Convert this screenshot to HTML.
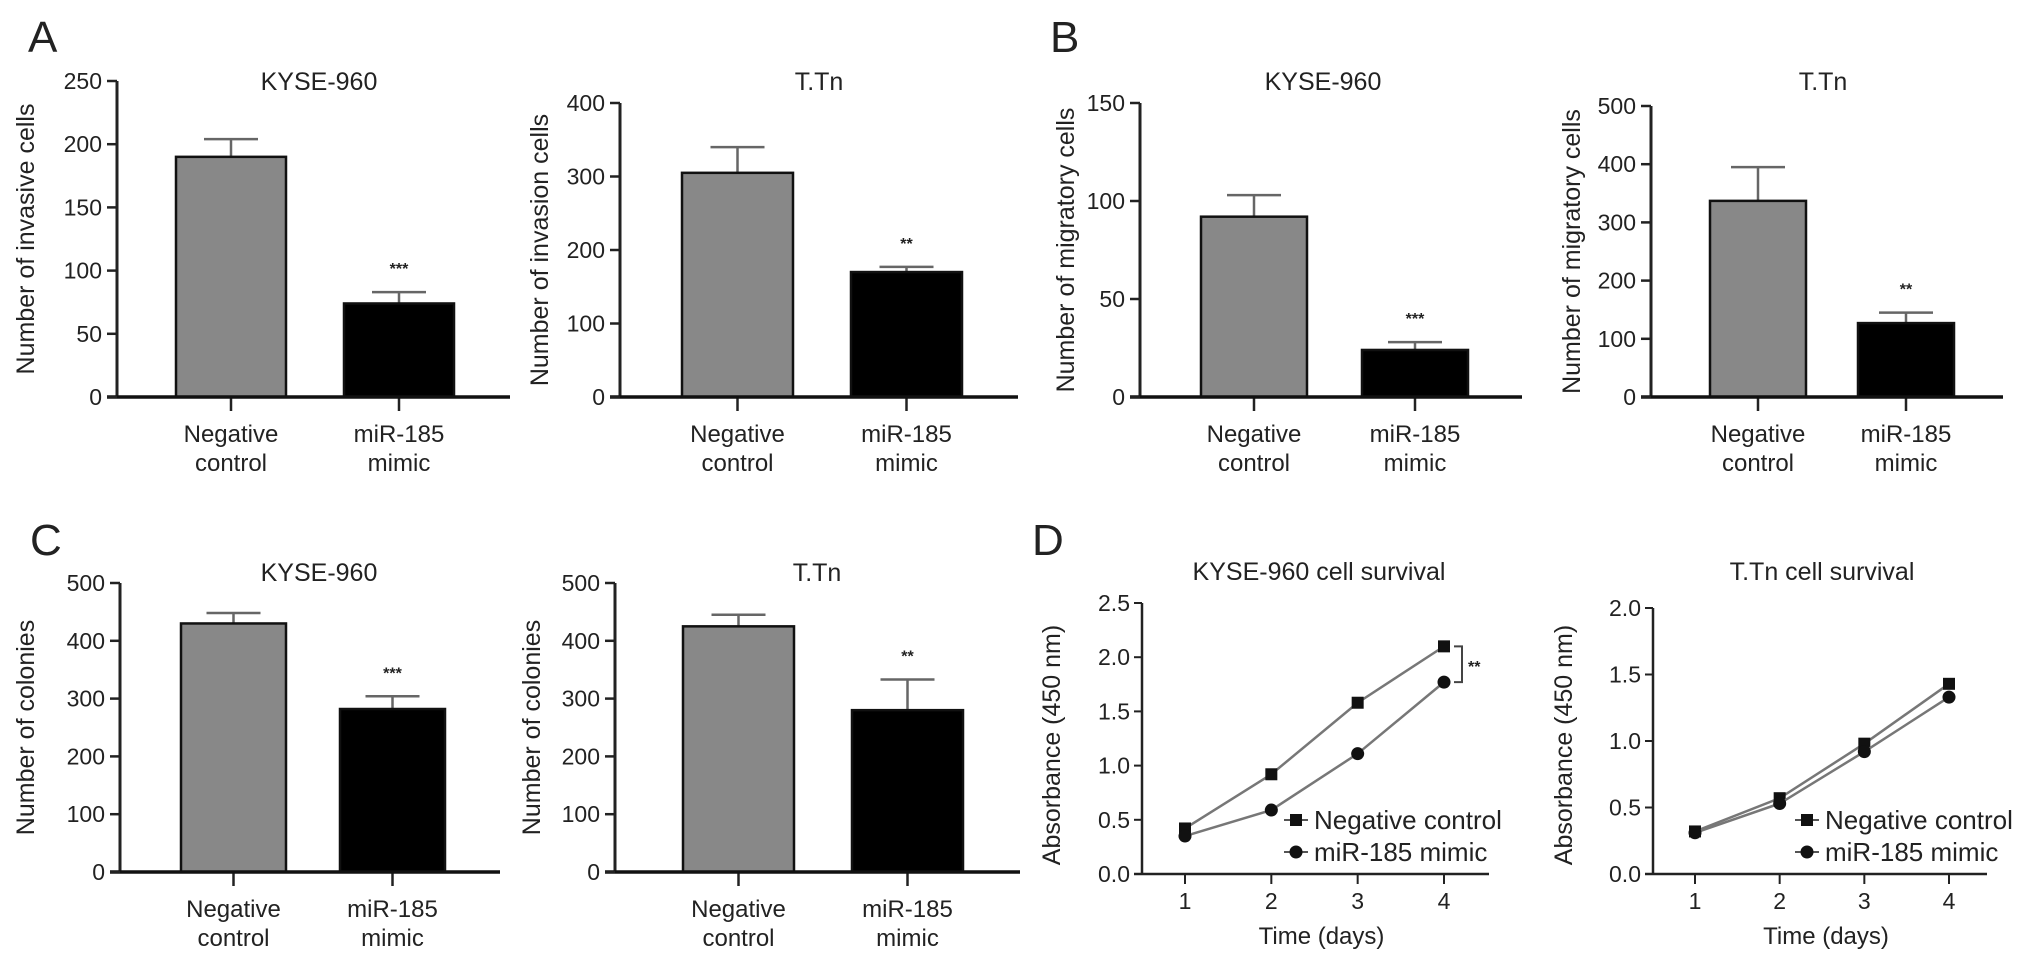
<!DOCTYPE html>
<html><head><meta charset="utf-8"><style>
html,body{margin:0;padding:0;background:#fff;width:2032px;height:966px;overflow:hidden}
svg text{font-family:"Liberation Sans",Arial,sans-serif;fill:#222}
</style></head><body>
<svg id="fig" width="2032" height="966" viewBox="0 0 2032 966" xmlns="http://www.w3.org/2000/svg">
<text x="28" y="52" font-size="44">A</text>
<text x="1050" y="52" font-size="44">B</text>
<text x="30" y="555" font-size="44">C</text>
<text x="1032" y="555" font-size="44">D</text>
</svg>
<script>
const svgNS="http://www.w3.org/2000/svg";
const fig=document.getElementById('fig');
function mk(tag,attrs,parent){const e=document.createElementNS(svgNS,tag);for(const k in attrs)e.setAttribute(k,attrs[k]);(parent||fig).appendChild(e);return e;}

// ---- bar chart data ----
const barCategories=[["Negative","control"],["miR-185","mimic"]];
const a1Values=[190,74];const a1Err=[204,83];const a1Ticks=[0,50,100,150,200,250];
const a2Values=[305,170];const a2Err=[340,177];const a2Ticks=[0,100,200,300,400];
const b1Values=[92,24];const b1Err=[103,28];const b1Ticks=[0,50,100,150];
const b2Values=[337,127];const b2Err=[395,145];const b2Ticks=[0,100,200,300,400,500];
const c1Values=[430,282];const c1Err=[448,304];const c1Ticks=[0,100,200,300,400,500];
const c2Values=[425,280];const c2Err=[445,333];const c2Ticks=[0,100,200,300,400,500];
const a1Sig="***",a2Sig="**",b1Sig="***",b2Sig="**",c1Sig="***",c2Sig="**";

// ---- line chart data ----
const days=[1,2,3,4];
const d1Neg=[0.42,0.92,1.58,2.1];const d1Mim=[0.35,0.59,1.11,1.77];const d1Ticks=[0,0.5,1.0,1.5,2.0,2.5];
const d2Neg=[0.32,0.57,0.98,1.43];const d2Mim=[0.31,0.53,0.92,1.33];const d2Ticks=[0,0.5,1.0,1.5,2.0];
const legendLabels=["Negative control","miR-185 mimic"];

function barChart(o){
  const g=mk('g',{});
  
  
  const max=o.ticks[o.ticks.length-1];
  const y=v=>o.y0-(v/max)*(o.y0-o.yTop);
  const bx=[o.b1,o.b2];
  o.values.forEach((v,i)=>{
    const err=mk('g',{},g);
    
    
    const cx=bx[i]+o.bw/2;
    mk('line',{x1:cx,x2:cx,y1:y(v),y2:y(o.err[i]),stroke:'#666','stroke-width':2.5},err);
    mk('line',{x1:cx-27,x2:cx+27,y1:y(o.err[i]),y2:y(o.err[i]),stroke:'#666','stroke-width':2.5},err);
    const r=mk('rect',{x:bx[i],y:y(v),width:o.bw,height:o.y0-y(v),fill:i==0?'#888':'#000',stroke:'#111','stroke-width':2.5},g);
    
    
    const t=mk('text',{x:cx,y:o.y0+45,'font-size':24,'text-anchor':'middle'},g);
    
    
    barCategories[i].forEach((s,j)=>{const ts=mk('tspan',{x:cx,dy:j==0?0:29},t);ts.textContent=s;});
    mk('line',{x1:cx,x2:cx,y1:o.y0,y2:o.y0+14,stroke:'#222','stroke-width':2.5},g);
  });
  const sg=mk('text',{x:bx[1]+o.bw/2,y:y(o.err[1])-18,'font-size':16,'text-anchor':'middle','font-weight':'bold'},g);
  
  
  sg.textContent=o.sig;
  const ya=mk('line',{x1:o.x0,x2:o.x0,y1:o.y0,y2:o.yTop,stroke:'#222','stroke-width':3},g);
  
  
  const xa=mk('line',{x1:o.x0-10,x2:o.xEnd,y1:o.y0,y2:o.y0,stroke:'#111','stroke-width':3.5},g);
  
  
  o.ticks.forEach(tv=>{
    mk('line',{x1:o.x0-10,x2:o.x0,y1:y(tv),y2:y(tv),stroke:'#222','stroke-width':2.5},g);
    const t=mk('text',{x:o.x0-15,y:y(tv)+8,'font-size':23,'text-anchor':'end'},g);
    
    
    t.textContent=tv;
  });
  const tt=mk('text',{x:o.tx,y:o.ty,'font-size':25,'text-anchor':'middle'},g);
  
  
  tt.textContent=o.title;
  const yl=mk('text',{x:0,y:0,'font-size':25,'text-anchor':'middle',transform:`translate(${o.ylx},${(o.y0+o.yTop)/2}) rotate(-90)`},g);
  
  
  yl.textContent=o.ylabel;
}

barChart({name:'chart-a-kyse960',values:a1Values,err:a1Err,ticks:a1Ticks,sig:a1Sig,x0:117,xEnd:510,y0:397,yTop:81,b1:176,b2:344,bw:110,tx:319,ty:90,ylx:34,title:'KYSE-960',ylabel:'Number of invasive cells'});
barChart({name:'chart-a-ttn',values:a2Values,err:a2Err,ticks:a2Ticks,sig:a2Sig,x0:620,xEnd:1018,y0:397,yTop:103,b1:682,b2:851,bw:111,tx:819,ty:90,ylx:548,title:'T.Tn',ylabel:'Number of invasion cells'});
barChart({name:'chart-b-kyse960',values:b1Values,err:b1Err,ticks:b1Ticks,sig:b1Sig,x0:1140,xEnd:1522,y0:397,yTop:103,b1:1201,b2:1362,bw:106,tx:1323,ty:90,ylx:1074,title:'KYSE-960',ylabel:'Number of migratory cells'});
barChart({name:'chart-b-ttn',values:b2Values,err:b2Err,ticks:b2Ticks,sig:b2Sig,x0:1651,xEnd:2003,y0:397,yTop:106,b1:1710,b2:1858,bw:96,tx:1823,ty:90,ylx:1580,title:'T.Tn',ylabel:'Number of migratory cells'});
barChart({name:'chart-c-kyse960',values:c1Values,err:c1Err,ticks:c1Ticks,sig:c1Sig,x0:120,xEnd:500,y0:872,yTop:583,b1:181,b2:340,bw:105,tx:319,ty:581,ylx:34,title:'KYSE-960',ylabel:'Number of colonies'});
barChart({name:'chart-c-ttn',values:c2Values,err:c2Err,ticks:c2Ticks,sig:c2Sig,x0:615,xEnd:1020,y0:872,yTop:583,b1:683,b2:852,bw:111,tx:817,ty:581,ylx:540,title:'T.Tn',ylabel:'Number of colonies'});

function lineChart(o){
  const g=mk('g',{});
  
  
  const max=o.ticks[o.ticks.length-1];
  const y=v=>o.y0-(v/max)*(o.y0-o.yTop);
  const x=d=>o.xa+(d-1)/3*(o.xb-o.xa);
  [o.neg,o.mim].forEach((ser,si)=>{
    const pts=ser.map((v,i)=>x(days[i])+','+y(v)).join(' ');
    const pl=mk('polyline',{points:pts,fill:'none',stroke:'#777','stroke-width':2.5},g);
    
    
    ser.forEach((v,i)=>{
      let m;
      if(si==0) m=mk('rect',{x:x(days[i])-6,y:y(v)-6,width:12,height:12,fill:'#111'},g);
      else m=mk('circle',{cx:x(days[i]),cy:y(v),r:6.5,fill:'#111'},g);
      
      
    });
  });
  const ya=mk('line',{x1:o.x0,x2:o.x0,y1:o.y0,y2:o.yTop,stroke:'#222','stroke-width':2.5},g);
  
  
  const xa=mk('line',{x1:o.x0-8,x2:o.xEnd,y1:o.y0,y2:o.y0,stroke:'#222','stroke-width':2.5},g);
  
  
  o.ticks.forEach(tv=>{
    mk('line',{x1:o.x0-8,x2:o.x0,y1:y(tv),y2:y(tv),stroke:'#222','stroke-width':2},g);
    const t=mk('text',{x:o.x0-12,y:y(tv)+8,'font-size':23,'text-anchor':'end'},g);
    
    
    t.textContent=tv.toFixed(1);
  });
  days.forEach(d=>{
    mk('line',{x1:x(d),x2:x(d),y1:o.y0,y2:o.y0+10,stroke:'#222','stroke-width':2},g);
    const t=mk('text',{x:x(d),y:o.y0+35,'font-size':23,'text-anchor':'middle'},g);
    
    
    t.textContent=d;
  });
  const xl=mk('text',{x:(o.x0+o.xEnd)/2+6,y:o.y0+70,'font-size':24,'text-anchor':'middle'},g);
  
  
  xl.textContent='Time (days)';
  const tt=mk('text',{x:o.tx,y:580,'font-size':25,'text-anchor':'middle'},g);
  
  
  tt.textContent=o.title;
  const yl=mk('text',{x:0,y:0,'font-size':25,'text-anchor':'middle',transform:`translate(${o.ylx},745) rotate(-90)`},g);
  
  
  yl.textContent='Absorbance (450 nm)';
  legendLabels.forEach((lab,i)=>{
    const lg=mk('g',{},g);
    
    
    const ly=o.ly+i*32;
    mk('line',{x1:o.lx-12,x2:o.lx+12,y1:ly,y2:ly,stroke:'#555','stroke-width':2},lg);
    if(i==0) mk('rect',{x:o.lx-6,y:ly-6,width:12,height:12,fill:'#111'},lg);
    else mk('circle',{cx:o.lx,cy:ly,r:6.5,fill:'#111'},lg);
    const t=mk('text',{x:o.lx+18,y:ly+9,'font-size':26},lg);
    t.textContent=lab;
  });
  if(o.bracket){
    const bg=mk('g',{},g);
    
    
    const bxp=x(4)+18;
    mk('polyline',{points:`${bxp-8},${y(o.neg[3])} ${bxp},${y(o.neg[3])} ${bxp},${y(o.mim[3])} ${bxp-8},${y(o.mim[3])}`,fill:'none',stroke:'#444','stroke-width':2},bg);
    const t=mk('text',{x:bxp+6,y:(y(o.neg[3])+y(o.mim[3]))/2+8,'font-size':16,'font-weight':'bold'},bg);
    t.textContent='**';
  }
}
lineChart({name:'chart-d-kyse960-survival',neg:d1Neg,mim:d1Mim,ticks:d1Ticks,x0:1142,xEnd:1489,y0:874,yTop:603,xa:1185,xb:1444,tx:1319,ylx:1060,title:'KYSE-960 cell survival',lx:1296,ly:820,bracket:true});
lineChart({name:'chart-d-ttn-survival',neg:d2Neg,mim:d2Mim,ticks:d2Ticks,x0:1653,xEnd:1987,y0:874,yTop:608,xa:1695,xb:1949,tx:1822,ylx:1572,title:'T.Tn cell survival',lx:1807,ly:820,bracket:false});
</script>
</body></html>
